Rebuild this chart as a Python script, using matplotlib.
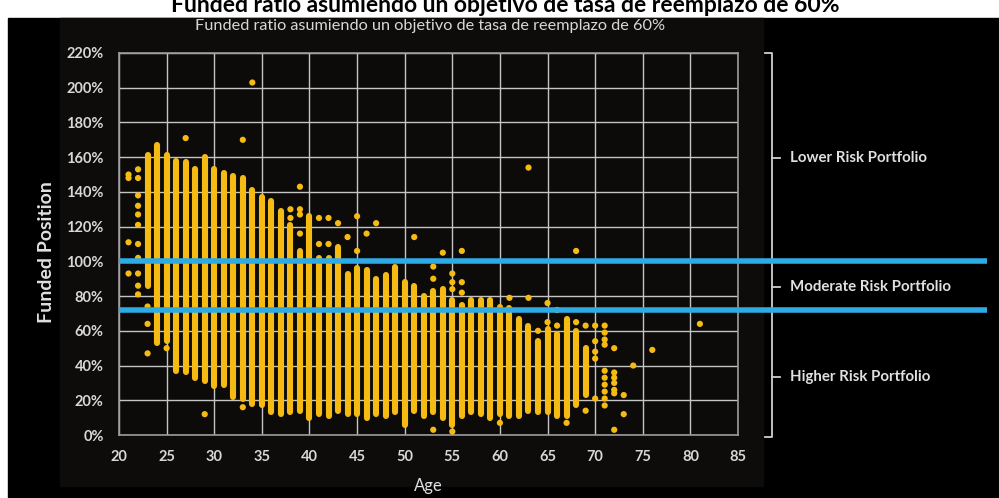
import matplotlib
matplotlib.use("Agg")
import matplotlib.pyplot as plt
from matplotlib.patches import Rectangle

plt.rcParams["font.family"] = ["Lato", "DejaVu Sans"]

# %% Dane
# dense columns: age, top and bottom of the column (%)
col_age = [23, 24, 25, 26, 27, 28, 29, 30, 31, 32, 33, 34, 35, 36, 37, 38, 39, 40,
           41, 42, 43, 44, 45, 46, 47, 48, 49, 50, 51, 52, 53, 54, 55, 56, 57, 58,
           59, 60, 61, 62, 63, 64, 65, 66, 67, 68, 69]
col_top = [161, 167, 161, 158, 157, 153, 160, 153, 151, 149, 148, 141, 137, 135, 129,
           121, 106, 126, 102, 102, 108, 93, 96, 95, 90, 92, 97, 88, 86, 80, 83, 84,
           78, 75, 78, 78, 78, 74, 73, 67, 63, 54, 61, 58, 67, 60, 50]
col_bot = [86, 53, 54, 37, 36, 33, 31, 28, 29, 22, 21, 18, 17, 13, 12, 13, 14, 10,
           12, 11, 14, 12, 12, 10, 12, 11, 13, 6, 14, 11, 13, 10, 6, 11, 13, 12,
           10, 12, 11, 11, 14, 13, 13, 11, 11, 17, 23]

# isolated points
pt_age = [21, 21, 21, 21,
          22, 22, 22, 22, 22, 22, 22, 22, 22, 22, 22,
          23, 23, 23, 25, 27, 29, 33, 33, 34,
          38, 38, 39, 39, 39, 39, 41, 41, 42, 42, 43, 44, 45, 45, 46, 47,
          51, 53, 53, 53, 54, 55, 55, 55, 55, 56, 56, 56,
          60, 61, 63, 63, 64, 65, 65, 66, 66, 67, 68, 68, 69, 69,
          70, 70, 70, 70, 70,
          71, 71, 71, 71, 71, 71, 71, 71, 71, 71,
          72, 72, 72, 72, 72, 72, 72,
          73, 73, 74, 76, 81]
pt_val = [150, 148, 111, 93,
          153, 148, 138, 132, 127, 121, 110, 102, 93, 86, 81,
          74, 64, 47, 50, 171, 12, 170, 16, 203,
          130, 125, 143, 130, 127, 116, 125, 110, 125, 110, 122, 114, 126, 106, 116, 122,
          114, 97, 90, 3, 105, 93, 88, 84, 2, 106, 88, 82,
          7, 79, 154, 79, 60, 76, 65, 72, 63, 7, 106, 65, 63, 14,
          63, 54, 48, 44, 21,
          63, 59, 55, 52, 37, 33, 29, 25, 21, 17,
          50, 36, 33, 30, 26, 24, 3,
          23, 12, 40, 49, 64]

# blue threshold lines (%)
progi = [100, 72]

etykiety = ["Lower Risk Portfolio", "Moderate Risk Portfolio", "Higher Risk Portfolio"]

# %% Wykres
W, H = 999, 498
fig = plt.figure(figsize=(W / 100, H / 100), dpi=100, facecolor="white")

# background layer in pixel coordinates
bg = fig.add_axes([0, 0, 1, 1], zorder=0)
bg.set_xlim(0, W)
bg.set_ylim(H, 0)
bg.axis("off")
bg.add_patch(Rectangle((8, 18), W - 8, H - 18, color="black"))
bg.add_patch(Rectangle((60, 18), 703, 468, color="#0d0c0b"))

# top slide title, cut by the edge of the screenshot
bg.text(505, 12, "Funded ratio asumiendo un objetivo de tasa de reemplazo de 60%",
        ha="center", va="baseline", fontsize=16.5, fontweight="bold", color="black")
bg.text(430, 26, "Funded ratio asumiendo un objetivo de tasa de reemplazo de 60%",
        ha="center", va="center", fontsize=11.7, color="#d8d8d8")

# bracket on the right
kol = "#d0d0d0"
bg.plot([765, 772, 772, 765], [53, 53, 437, 437], color=kol, lw=1.3)
for y, txt in zip([158, 287, 377], etykiety):
    bg.plot([772, 780], [y, y], color=kol, lw=1.3)
    bg.text(790, y, txt, ha="left", va="center", fontsize=10.8,
            fontweight="bold", color="#e0e0e0")

bg.text(47, 252, "Funded Position", rotation=90, ha="center", va="center",
        fontsize=14, fontweight="bold", color="#e0e0e0")

# main axes
ax = fig.add_axes([119 / W, 1 - 435 / H, (738 - 119) / W, (435 - 53) / H], zorder=1)
ax.set_facecolor("#0c0b0a")
ax.set_xlim(20, 85)
ax.set_ylim(0, 220)
ax.set_xticks(range(20, 86, 5))
ax.set_yticks(range(0, 221, 20))
ax.set_yticklabels([f"{v}%" for v in range(0, 221, 20)])
ax.tick_params(length=0, labelsize=10.5, colors="#d8d8d8")
ax.tick_params(axis="y", pad=11)
ax.tick_params(axis="x", pad=11)
for t in ax.get_xticklabels() + ax.get_yticklabels():
    t.set_fontweight("bold")
ax.grid(True, color="#c4c4c4", lw=1.0)
ax.set_axisbelow(True)
for s in ax.spines.values():
    s.set_color("#9a9a9a")
    s.set_linewidth(1.2)
ax.set_xlabel("Age", fontsize=12, color="#e0e0e0", labelpad=10)

zolty = "#f5bb12"
lc = ax.vlines(col_age, col_bot, col_top, color=zolty, lw=4.4, zorder=3)
lc.set_capstyle("round")
ax.scatter(pt_age, pt_val, s=20, color=zolty, edgecolors="none", zorder=3)

for p in progi:
    ax.plot([20, 111.1], [p, p], color="#2eaae4", lw=4, clip_on=False, zorder=4,
            solid_capstyle="butt")

fig.savefig("out.png", dpi=100, facecolor=fig.get_facecolor())
